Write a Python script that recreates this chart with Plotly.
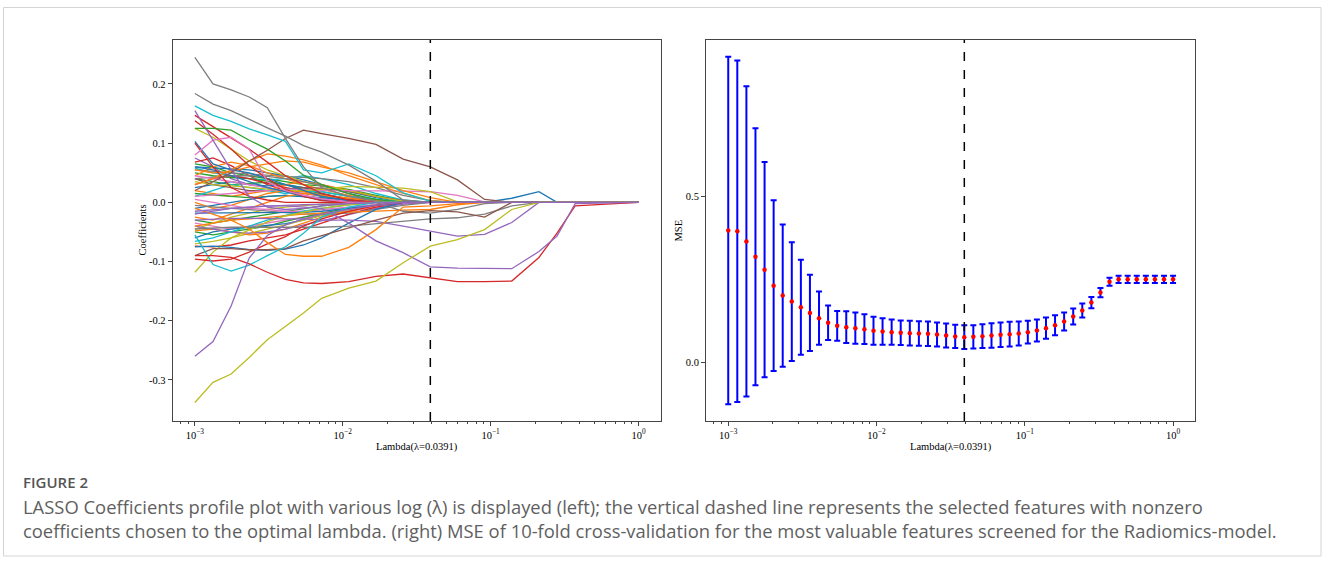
import plotly.graph_objects as go

# ---------------- data ----------------
# lambda grid used for cross-validation (50 log-spaced values)
LAMBDAS = [0.001, 0.001151, 0.001326, 0.001526, 0.001758, 0.002024, 0.00233, 0.002683, 0.003089, 0.003556,
           0.004095, 0.004715, 0.005429, 0.006251, 0.007197, 0.008286, 0.009541, 0.010985, 0.012649, 0.014563,
           0.016768, 0.019307, 0.02223, 0.025595, 0.029471, 0.033932, 0.039069, 0.044984, 0.051795, 0.059636,
           0.068665, 0.07906, 0.09103, 0.10481, 0.12068, 0.13895, 0.15999, 0.18421, 0.2121, 0.24421,
           0.28118, 0.32375, 0.37276, 0.42919, 0.49417, 0.56899, 0.65513, 0.75431, 0.86851, 1.0]

MSE_MEAN = [0.397, 0.395, 0.364, 0.318, 0.279, 0.231, 0.201, 0.183, 0.166, 0.149,
            0.133, 0.119, 0.110, 0.106, 0.103, 0.100, 0.095, 0.093, 0.091, 0.089,
            0.088, 0.087, 0.086, 0.084, 0.081, 0.078, 0.076, 0.077, 0.079, 0.081,
            0.083, 0.085, 0.087, 0.091, 0.096, 0.103, 0.112, 0.123, 0.138, 0.156,
            0.180, 0.210, 0.243, 0.250, 0.250, 0.250, 0.250, 0.250, 0.250, 0.250]

MSE_ERR = [0.523, 0.514, 0.467, 0.387, 0.324, 0.257, 0.214, 0.179, 0.143, 0.115,
           0.080, 0.052, 0.045, 0.048, 0.047, 0.045, 0.042, 0.040, 0.038, 0.037,
           0.037, 0.037, 0.037, 0.036, 0.036, 0.035, 0.036, 0.035, 0.036, 0.037,
           0.037, 0.037, 0.036, 0.034, 0.033, 0.032, 0.030, 0.027, 0.024, 0.021,
           0.017, 0.014, 0.012, 0.011, 0.011, 0.011, 0.011, 0.011, 0.011, 0.011]

LAMBDA_OPT = 0.0391

# lambda values at which the coefficient paths were read
LAMBDA_KNOTS = [0.001, 0.001326, 0.001758, 0.00233, 0.003089, 0.004095, 0.005429, 0.007197, 0.010985,
                0.016768, 0.025595, 0.039069, 0.059636, 0.09103, 0.13895, 0.2121, 0.28118, 0.37276, 1.0]

# coefficient paths (one list per feature, values at LAMBDA_KNOTS)
COEF_PATHS = [
    [0.075, 0.060, 0.040, 0.030, 0.025, 0.020, 0.015, 0.010, 0.005, 0, 0, 0, 0, 0, 0, 0, 0, 0, 0],
    [0.068, 0.075, 0.062, 0.045, 0.030, 0.020, 0.012, 0.006, 0.002, 0, 0, 0, 0, 0, 0, 0, 0, 0, 0],
    [0.065, 0.060, 0.050, 0.045, 0.040, 0.035, 0.030, 0.028, 0.022, 0.012, 0.003, 0, 0, 0, 0, 0, 0, 0, 0],
    [0.060, 0.058, 0.057, 0.055, 0.050, 0.045, 0.038, 0.030, 0.018, 0.008, 0, 0, 0, 0, 0, 0, 0, 0, 0],
    [0.058, 0.050, 0.045, 0.040, 0.038, 0.040, 0.045, 0.040, 0.030, 0.015, 0.004, 0, 0, 0, 0, 0, 0, 0, 0],
    [0.055, 0.052, 0.050, 0.048, 0.046, 0.044, 0.042, 0.040, 0.035, 0.025, 0.012, 0.003, 0, 0, 0, 0, 0, 0, 0],
    [0.050, 0.045, 0.042, 0.040, 0.036, 0.030, 0.022, 0.014, 0.006, 0, 0, 0, 0, 0, 0, 0, 0, 0, 0],
    [0.045, 0.060, 0.068, 0.062, 0.050, 0.040, 0.030, 0.022, 0.012, 0.005, 0, 0, 0, 0, 0, 0, 0, 0, 0],
    [0.040, 0.035, 0.030, 0.032, 0.034, 0.030, 0.025, 0.018, 0.010, 0.004, 0, 0, 0, 0, 0, 0, 0, 0, 0],
    [0.030, 0.040, 0.045, 0.040, 0.032, 0.025, 0.018, 0.012, 0.006, 0.002, 0, 0, 0, 0, 0, 0, 0, 0, 0],
    [0.025, 0.030, 0.035, 0.030, 0.028, 0.030, 0.025, 0.015, 0.006, 0, 0, 0, 0, 0, 0, 0, 0, 0, 0],
    [0.020, 0.015, 0.010, 0.015, 0.020, 0.030, 0.035, 0.030, 0.020, 0.010, 0.002, 0, 0, 0, 0, 0, 0, 0, 0],
    [0.015, 0.012, 0.010, 0.008, 0.010, 0.012, 0.010, 0.008, 0.004, 0, 0, 0, 0, 0, 0, 0, 0, 0, 0],
    [0.010, 0.020, 0.030, 0.025, 0.020, 0.015, 0.020, 0.018, 0.010, 0.005, 0.001, 0, 0, 0, 0, 0, 0, 0, 0],
    [0.000, -0.010, -0.005, 0.005, 0.015, 0.020, 0.018, 0.012, 0.006, 0.002, 0, 0, 0, 0, 0, 0, 0, 0, 0],
    [-0.010, -0.005, 0.000, 0.005, 0.010, 0.012, 0.010, 0.008, 0.004, 0, 0, 0, 0, 0, 0, 0, 0, 0, 0],
    [-0.025, -0.030, -0.020, -0.010, 0.000, 0.010, 0.015, 0.012, 0.008, 0.003, 0, 0, 0, 0, 0, 0, 0, 0, 0],
    [-0.030, -0.035, -0.030, -0.025, -0.020, -0.015, -0.010, -0.006, -0.002, 0, 0, 0, 0, 0, 0, 0, 0, 0, 0],
    [-0.035, -0.040, -0.045, -0.040, -0.035, -0.030, -0.025, -0.020, -0.015, -0.008, -0.002, 0, 0, 0, 0, 0, 0, 0, 0],
    [-0.045, -0.035, -0.025, -0.018, -0.012, -0.008, -0.005, -0.003, -0.001, 0, 0, 0, 0, 0, 0, 0, 0, 0, 0],
    [-0.050, -0.055, -0.050, -0.045, -0.040, -0.032, -0.025, -0.018, -0.010, -0.004, 0, 0, 0, 0, 0, 0, 0, 0, 0],
    [-0.060, -0.050, -0.045, -0.042, -0.040, -0.036, -0.030, -0.022, -0.012, -0.004, 0, 0, 0, 0, 0, 0, 0, 0, 0],
    [-0.070, -0.066, -0.060, -0.052, -0.045, -0.038, -0.030, -0.022, -0.012, -0.004, 0, 0, 0, 0, 0, 0, 0, 0, 0],
    [-0.048, -0.045, -0.050, -0.055, -0.052, -0.045, -0.035, -0.025, -0.015, -0.006, 0, 0, 0, 0, 0, 0, 0, 0, 0],
    [-0.040, -0.045, -0.050, -0.052, -0.050, -0.045, -0.038, -0.030, -0.020, -0.010, -0.003, 0, 0, 0, 0, 0, 0, 0, 0],
    [-0.074, -0.075, -0.072, -0.065, -0.060, -0.055, -0.045, -0.035, -0.020, -0.008, 0, 0, 0, 0, 0, 0, 0, 0, 0],
    [-0.005, -0.008, -0.010, -0.012, -0.015, -0.018, -0.020, -0.020, -0.018, -0.012, -0.005, 0, 0, 0, 0, 0, 0, 0, 0],
    [0.005, 0.000, -0.005, -0.010, -0.012, -0.015, -0.015, -0.012, -0.008, -0.004, 0, 0, 0, 0, 0, 0, 0, 0, 0],
    [0.040, 0.030, 0.025, 0.020, 0.020, 0.022, 0.025, 0.024, 0.018, 0.010, 0.003, 0, 0, 0, 0, 0, 0, 0, 0],
    [-0.066, -0.060, -0.050, -0.040, -0.030, -0.022, -0.015, -0.010, -0.004, 0, 0, 0, 0, 0, 0, 0, 0, 0, 0],
    [0.125, 0.110, 0.090, 0.070, 0.055, 0.045, 0.035, 0.028, 0.020, 0.010, 0.002, 0, 0, 0, 0, 0, 0, 0, 0],
    [-0.018, -0.018, -0.018, -0.018, -0.018, -0.018, -0.017, -0.015, -0.010, -0.004, 0, 0, 0, 0, 0, 0, 0, 0, 0],
    [-0.040, -0.035, -0.030, -0.028, -0.025, -0.022, -0.020, -0.018, -0.016, -0.014, -0.013, -0.012, -0.004, 0, 0, 0, 0, 0, 0],
    [0.040, 0.042, 0.045, 0.045, 0.044, 0.040, 0.035, 0.028, 0.015, 0.000, -0.015, -0.018, -0.012, -0.002, 0, 0, 0, 0, 0],
    [0.010, 0.012, 0.015, 0.018, 0.020, 0.022, 0.022, 0.020, 0.020, 0.020, 0.019, 0.018, 0.012, 0.001, 0, 0, 0, 0, 0],
    [0.035, 0.030, 0.028, 0.025, 0.022, 0.020, 0.020, 0.022, 0.027, 0.025, 0.024, 0.018, 0.001, 0, 0, 0, 0, 0, 0],
    [0.045, 0.040, 0.035, 0.030, 0.025, 0.018, 0.012, 0.006, 0.002, 0, 0, 0, 0, 0, 0, 0, 0, 0, 0],
    [0.060, 0.055, 0.045, 0.035, 0.025, 0.018, 0.010, 0.004, 0, 0, 0, 0, 0, 0, 0.007, 0.018, 0, 0, 0],
    [0.055, 0.050, 0.052, 0.060, 0.065, 0.070, 0.068, 0.060, 0.050, 0.035, 0.020, 0.008, 0, 0, 0, 0, 0, 0, 0],
    [0.030, 0.040, 0.055, 0.070, 0.082, 0.078, 0.072, 0.063, 0.045, 0.030, 0.015, 0.003, 0, 0, 0, 0, 0, 0, 0],
    [0.103, 0.065, 0.055, 0.050, 0.040, 0.030, 0.020, 0.010, 0.003, 0, 0, 0, 0, 0, 0, 0, 0, 0, 0],
    [0.100, 0.060, 0.025, 0.010, 0.004, 0, 0, 0, 0, 0, 0, 0, 0, 0, 0, 0, 0, 0, 0],
    [0.138, 0.115, 0.090, 0.062, 0.040, 0.022, 0.010, 0.003, 0, 0, 0, 0, 0, 0, 0, 0, 0, 0, 0],
    [0.147, 0.128, 0.110, 0.090, 0.068, 0.045, 0.030, 0.015, 0.004, 0, 0, 0, 0, 0, 0, 0, 0, 0, 0],
    [0.080, 0.105, 0.110, 0.090, 0.035, 0.020, 0.012, 0.006, 0, 0, 0, 0, 0, 0, 0, 0, 0, 0, 0],
    [0.155, 0.105, 0.055, 0.010, -0.008, -0.012, -0.010, -0.006, -0.002, 0, 0, 0, 0, 0, 0, 0, 0, 0, 0],
    [0.125, 0.125, 0.122, 0.105, 0.090, 0.070, 0.046, 0.030, 0.015, 0.005, 0, 0, 0, 0, 0, 0, 0, 0, 0],
    [0.020, 0.035, 0.050, 0.070, 0.088, 0.108, 0.122, 0.116, 0.108, 0.098, 0.073, 0.060, 0.038, 0.005, 0, 0, 0, 0, 0],
    [0.163, 0.147, 0.137, 0.124, 0.114, 0.103, 0.055, 0.050, 0.065, 0.045, 0.016, 0.002, 0, 0, 0, 0, 0, 0, 0],
    [0.184, 0.166, 0.155, 0.140, 0.126, 0.112, 0.096, 0.085, 0.063, 0.036, 0.004, 0, 0, 0, 0, 0, 0, 0, 0],
    [0.245, 0.200, 0.190, 0.178, 0.160, 0.108, 0.060, 0.025, 0.010, 0.002, 0, 0, 0, 0, 0, 0, 0, 0, 0],
    [-0.118, -0.084, -0.060, -0.046, -0.033, -0.023, -0.016, -0.010, -0.004, 0, 0, 0, 0, 0, 0, 0, 0, 0, 0],
    [-0.075, -0.074, -0.076, -0.080, -0.081, -0.079, -0.072, -0.060, -0.035, -0.012, 0, 0, 0, 0, 0, 0, 0, 0, 0],
    [-0.030, -0.028, -0.027, -0.027, -0.028, -0.028, -0.028, -0.030, -0.030, -0.032, -0.040, -0.048, -0.057, -0.054, -0.034, 0, 0, 0, 0],
    [-0.045, -0.043, -0.042, -0.042, -0.042, -0.042, -0.041, -0.042, -0.040, -0.036, -0.033, -0.028, -0.026, -0.020, -0.006, 0, 0, 0, 0],
    [-0.096, -0.099, -0.096, -0.084, -0.070, -0.058, -0.040, -0.028, -0.015, -0.005, 0, 0, 0, 0, 0, 0, 0, 0, 0],
    [-0.090, -0.078, -0.078, -0.080, -0.080, -0.078, -0.065, -0.056, -0.043, -0.030, -0.018, -0.014, -0.016, -0.025, 0, 0, 0, 0, 0],
    [-0.010, -0.020, -0.030, -0.045, -0.068, -0.088, -0.091, -0.091, -0.076, -0.046, -0.008, -0.006, -0.002, 0, 0, 0, 0, 0, 0],
    [-0.055, -0.105, -0.116, -0.106, -0.090, -0.075, -0.052, -0.025, -0.008, 0, 0, 0, 0, 0, 0, 0, 0, 0, 0],
    [-0.090, -0.090, -0.093, -0.104, -0.118, -0.130, -0.136, -0.137, -0.134, -0.125, -0.121, -0.128, -0.134, -0.134, -0.133, -0.093, -0.052, -0.006, 0],
    [-0.020, -0.015, -0.010, -0.008, -0.006, -0.006, -0.008, -0.010, -0.035, -0.065, -0.085, -0.109, -0.111, -0.112, -0.112, -0.083, -0.057, -0.002, 0],
    [-0.260, -0.235, -0.175, -0.094, -0.056, -0.038, -0.028, -0.020, -0.012, -0.005, 0, 0, 0, 0, 0, 0, 0, 0, 0],
    [-0.338, -0.304, -0.290, -0.262, -0.232, -0.209, -0.187, -0.162, -0.145, -0.133, -0.102, -0.074, -0.063, -0.046, -0.012, 0, 0, 0, 0],
    [-0.015, -0.012, -0.010, -0.008, -0.006, -0.005, -0.004, -0.003, -0.002, -0.001, 0, 0, 0, 0, 0, 0, 0, 0, 0],
]

X_TICKS = [0.001, 0.01, 0.1, 1.0]
X_TICK_TEXT = ["10<sup>\u22123</sup>", "10<sup>\u22122</sup>", "10<sup>\u22121</sup>", "10<sup>0</sup>"]
Y_TICKS_LEFT = [-0.3, -0.2, -0.1, 0.0, 0.1, 0.2]
Y_TICK_TEXT_LEFT = ["-0.3", "-0.2", "-0.1", "0.0", "0.1", "0.2"]
Y_TICKS_RIGHT = [0.0, 0.5]
Y_TICK_TEXT_RIGHT = ["0.0", "0.5"]

# ---------------- styles ----------------
TAB = {"blue": "#1f77b4", "orange": "#ff7f0e", "green": "#2ca02c", "red": "#d62728", "purple": "#9467bd",
       "brown": "#8c564b", "pink": "#e377c2", "gray": "#7f7f7f", "olive": "#bcbd22", "cyan": "#17becf"}
PATH_COLORS = ["purple", "red", "green", "blue", "cyan", "gray", "green", "orange", "green", "red",
               "blue", "orange", "green", "cyan", "orange", "blue", "orange", "green", "pink", "olive",
               "green", "blue", "olive", "orange", "purple", "red", "gray", "pink", "brown", "cyan",
               "olive", "blue", "orange", "gray", "pink", "olive", "pink", "blue", "orange", "orange",
               "blue", "red", "red", "red", "pink", "purple", "green", "brown", "cyan", "gray",
               "gray", "olive", "blue", "purple", "gray", "red", "brown", "orange", "cyan", "red",
               "purple", "purple", "olive", "purple"]

W, H = 1328, 562
def px(x):
    return x / W
def py(y):
    return 1 - y / H

XRANGE = [-3.15, 0.15]
YRANGE_L = [-0.3693, 0.2743]
YRANGE_R = [-0.1765, 0.9705]
SERIF = "Liberation Serif, Times New Roman, serif"
SANS = "Open Sans, sans-serif"
MINOR = [0.0008, 0.0009] + [m * 10.0 ** e for e in (-3, -2, -1) for m in range(2, 10)]

fig = go.Figure()

for vals, cname in zip(COEF_PATHS, PATH_COLORS):
    fig.add_trace(go.Scatter(x=LAMBDA_KNOTS, y=vals, mode="lines", xaxis="x", yaxis="y",
                             line=dict(color=TAB[cname], width=1.3), showlegend=False, hoverinfo="skip"))

fig.add_trace(go.Scatter(x=[LAMBDA_OPT, LAMBDA_OPT], y=YRANGE_L, mode="lines", xaxis="x", yaxis="y",
                         line=dict(color="black", width=1.5, dash="dash"), showlegend=False))

fig.add_trace(go.Scatter(x=LAMBDAS, y=MSE_MEAN, mode="markers", xaxis="x2", yaxis="y2",
                         marker=dict(color="#ff0000", size=4.5, symbol="circle"),
                         error_y=dict(type="data", array=MSE_ERR, color="#0000ff", thickness=2, width=3),
                         showlegend=False))

fig.add_trace(go.Scatter(x=[LAMBDA_OPT, LAMBDA_OPT], y=YRANGE_R, mode="lines", xaxis="x2", yaxis="y2",
                         line=dict(color="black", width=1.5, dash="dash"), showlegend=False))

axis_common = dict(showline=True, mirror=True, linecolor="#444", linewidth=1, showgrid=False, zeroline=False,
                   ticks="outside", ticklen=4, tickcolor="#444", tickfont=dict(family=SERIF, size=10.5, color="black"))
xaxis_common = dict(axis_common, type="log", range=XRANGE, tickmode="array", tickvals=X_TICKS, ticktext=X_TICK_TEXT,
                    minor=dict(tickmode="array", tickvals=MINOR, ticks="outside", ticklen=2, tickcolor="#444", showgrid=False))

fig.update_layout(
    width=W, height=H, margin=dict(l=0, r=0, t=0, b=0),
    paper_bgcolor="white", plot_bgcolor="white", showlegend=False,
    xaxis=dict(xaxis_common, domain=[px(172.7), px(660.7)], anchor="y"),
    yaxis=dict(axis_common, domain=[py(421), py(40)], anchor="x", range=YRANGE_L, tickmode="array",
               tickvals=Y_TICKS_LEFT, ticktext=Y_TICK_TEXT_LEFT),
    xaxis2=dict(xaxis_common, domain=[px(706), px(1195.3)], anchor="y2"),
    yaxis2=dict(axis_common, domain=[py(421), py(40)], anchor="x2", range=YRANGE_R, tickmode="array",
                tickvals=Y_TICKS_RIGHT, ticktext=Y_TICK_TEXT_RIGHT),
)

ann = []
ann.append(dict(text="Lambda(\u03bb=0.0391)", x=px(416.7), y=py(447), xref="paper", yref="paper",
                showarrow=False, xanchor="center", yanchor="middle", font=dict(family=SERIF, size=10.5, color="black")))
ann.append(dict(text="Lambda(\u03bb=0.0391)", x=px(950.7), y=py(447), xref="paper", yref="paper",
                showarrow=False, xanchor="center", yanchor="middle", font=dict(family=SERIF, size=10.5, color="black")))
ann.append(dict(text="Coefficients", x=px(142), y=py(230.5), xref="paper", yref="paper", textangle=-90,
                showarrow=False, xanchor="center", yanchor="middle", font=dict(family=SERIF, size=10.5, color="black")))
ann.append(dict(text="MSE", x=px(678), y=py(230.5), xref="paper", yref="paper", textangle=-90,
                showarrow=False, xanchor="center", yanchor="middle", font=dict(family=SERIF, size=10.5, color="black")))
ann.append(dict(text="FIGURE 2", x=px(21), y=py(482), xref="paper", yref="paper", showarrow=False,
                xanchor="left", yanchor="middle", font=dict(family=SANS, size=15, color="#555555", weight=600)))
ann.append(dict(text="LASSO Coefficients profile plot with various log (\u03bb) is displayed (left); the vertical dashed line represents the selected features with nonzero",
                x=px(21), y=py(506), xref="paper", yref="paper", showarrow=False, xanchor="left", yanchor="middle",
                font=dict(family=SANS, size=18.4, color="#5f5f5f")))
ann.append(dict(text="coefficients chosen to the optimal lambda. (right) MSE of 10-fold cross-validation for the most valuable features screened for the Radiomics-model.",
                x=px(21), y=py(530), xref="paper", yref="paper", showarrow=False, xanchor="left", yanchor="middle",
                font=dict(family=SANS, size=18.4, color="#5f5f5f")))
fig.update_layout(annotations=ann)

fig.add_shape(type="rect", xref="paper", yref="paper", x0=px(3.5), x1=px(1321), y0=py(556), y1=py(7.5),
              line=dict(color="#d4d4d4", width=1), fillcolor="rgba(0,0,0,0)", layer="below")

fig.write_html("out.html")
